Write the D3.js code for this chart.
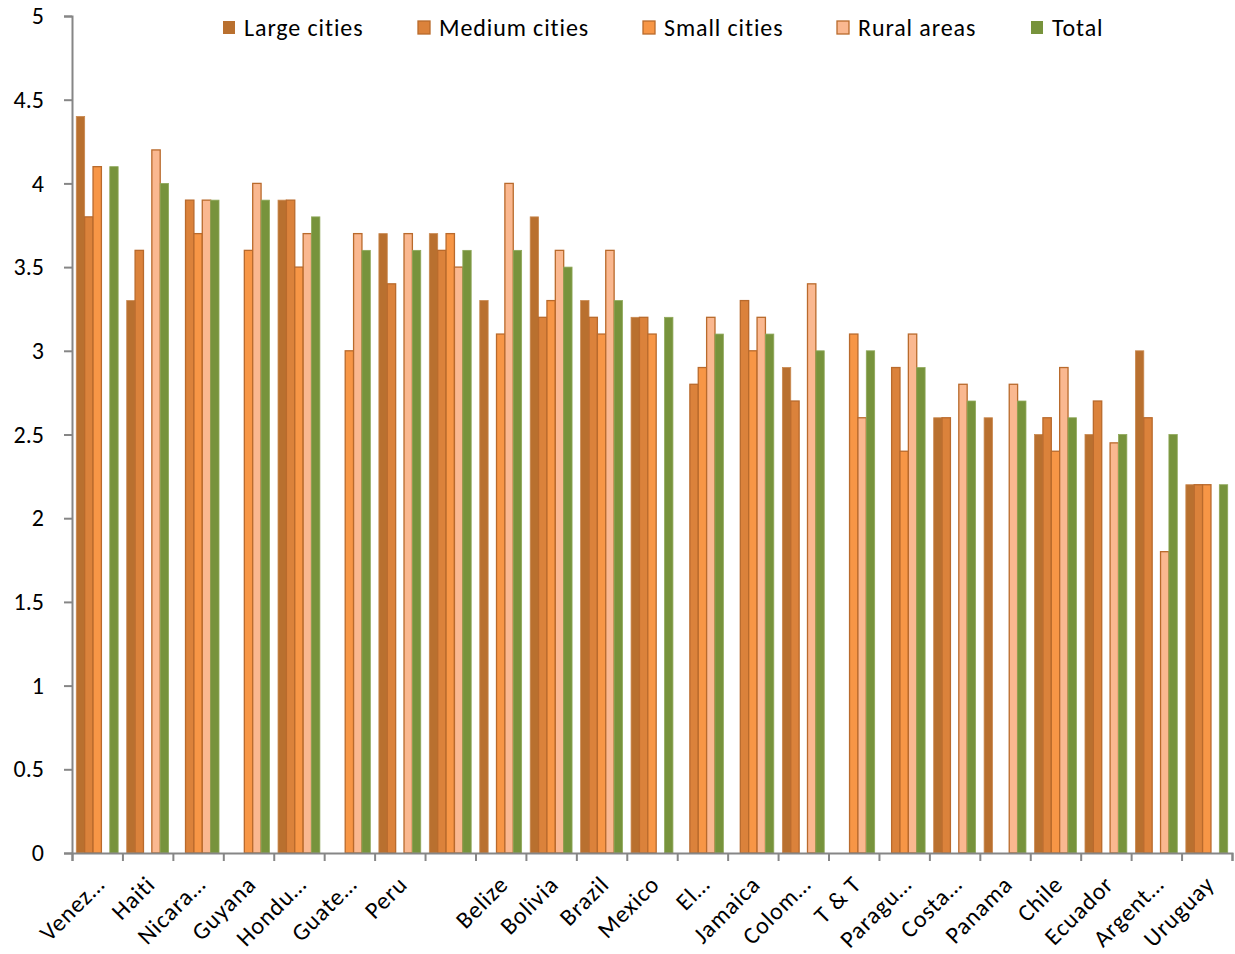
<!DOCTYPE html>
<html><head><meta charset="utf-8">
<script src="https://cdn.jsdelivr.net/npm/d3@7"></script>
<style>body{margin:0;background:#fff;} svg{display:block;font-family:Carlito,Lato,"Open Sans",sans-serif;}</style>
</head><body>
<svg id="c" width="1235" height="954"></svg>
<script>
const categories = ["Venez…","Haiti","Nicara…","Guyana","Hondu…","Guate…","Peru","","Belize","Bolivia","Brazil","Mexico","El…","Jamaica","Colom…","T & T","Paragu…","Costa…","Panama","Chile","Ecuador","Argent…","Uruguay"];
const seriesNames = ["Large cities","Medium cities","Small cities","Rural areas","Total"];
const largeCities  = [4.4,3.3,null,null,3.9,null,3.7,3.7,3.3,3.8,3.3,3.2,null,null,2.9,null,null,2.6,2.6,2.5,2.5,3.0,2.2];
const mediumCities = [3.8,3.6,3.9,null,3.9,null,3.4,3.6,null,3.2,3.2,3.2,2.8,3.3,2.7,null,2.9,2.6,null,2.6,2.7,2.6,2.2];
const smallCities  = [4.1,null,3.7,3.6,3.5,3.0,null,3.7,3.1,3.3,3.1,3.1,2.9,3.0,null,3.1,2.4,null,null,2.4,null,null,2.2];
const ruralAreas   = [null,4.2,3.9,4.0,3.7,3.7,3.7,3.5,4.0,3.6,3.6,null,3.2,3.2,3.4,2.6,3.1,2.8,2.8,2.9,2.45,1.8,null];
const total        = [4.1,4.0,3.9,3.9,3.8,3.6,3.6,3.6,3.6,3.5,3.3,3.2,3.1,3.1,3.0,3.0,2.9,2.7,2.7,2.6,2.5,2.5,2.2];
const yTicks = [0,0.5,1,1.5,2,2.5,3,3.5,4,4.5,5];

const seriesValues = [largeCities, mediumCities, smallCities, ruralAreas, total];
const fills   = ["#B9702F","#DB823B","#F79646","#FAB890","#77933C"];
const strokes = ["#C9884F","#B96A2C","#B96A2C","#B96A2C","#8FA85A"];
const strokeW = [0.8,1.3,1.3,1.3,0.8];

const svg = d3.select("#c");
const mLeft = 72, mRight = 1232, mTop = 16, mBottom = 853;
const fontSize = "24px", letterSp = "0.9px";

const x0 = d3.scaleBand().domain(d3.range(categories.length)).range([mLeft, mRight]).paddingInner(0).paddingOuter(0);
const x1 = d3.scaleBand().domain(d3.range(seriesNames.length)).range([x0.bandwidth()*0.085, x0.bandwidth()*0.915]);
const y = d3.scaleLinear().domain([0,5]).range([mBottom, mTop]);

// bars
seriesValues.forEach((vals, s) => {
  svg.append("g").selectAll("rect").data(vals.map((v,i)=>({v,i})).filter(d=>d.v!=null))
    .join("rect")
    .attr("x", d => x0(d.i) + x1(s))
    .attr("y", d => y(d.v))
    .attr("width", x1.bandwidth())
    .attr("height", d => y(0) - y(d.v))
    .attr("fill", fills[s])
    .attr("stroke", strokes[s])
    .attr("stroke-width", strokeW[s]);
});

const axisColor = "#868686";
// y axis
const yAxis = svg.append("g").attr("transform", `translate(${mLeft},0)`)
  .call(d3.axisLeft(y).tickValues(yTicks).tickSize(8).tickPadding(20).tickFormat(d => d3.format("")(d)));
yAxis.select(".domain").attr("stroke", axisColor).attr("stroke-width", 2);
yAxis.selectAll(".tick line").attr("stroke", axisColor).attr("stroke-width", 2);
yAxis.selectAll(".tick text").attr("fill", "#000").style("font-size", fontSize).style("font-family", "Carlito,Lato,sans-serif");

// x axis
const xLin = d3.scaleLinear().domain([0, categories.length]).range([mLeft, mRight]);
const xAxisG = svg.append("g").attr("transform", `translate(0,${mBottom})`);
xAxisG.call(d3.axisBottom(xLin).tickValues(d3.range(categories.length+1)).tickSize(8).tickFormat(""));
xAxisG.select(".domain").attr("stroke", axisColor).attr("stroke-width", 2);
xAxisG.selectAll(".tick line").attr("stroke", axisColor).attr("stroke-width", 2);

// x labels
svg.append("g").selectAll("text").data(categories).join("text")
  .attr("transform", (d,i) => `translate(${x0(i)+x0.bandwidth()/2+3},${mBottom+27}) rotate(-45)`)
  .attr("text-anchor", "end")
  .attr("dy", "0.35em")
  .style("font-size", fontSize)
  .style("letter-spacing", letterSp)
  .attr("fill", "#000")
  .text(d => d);

// legend
const legendX = [223, 418, 643, 837, 1031];
const lg = svg.append("g");
seriesNames.forEach((n, s) => {
  lg.append("rect").attr("x", legendX[s]).attr("y", 21).attr("width", 12).attr("height", 13)
    .attr("fill", fills[s]).attr("stroke", s===0||s===4 ? "none" : strokes[s]).attr("stroke-width", 1.3);
  lg.append("text").attr("x", legendX[s] + 21).attr("y", 28).attr("dy", "0.35em")
    .style("font-size", fontSize).style("letter-spacing", letterSp).attr("fill", "#000").text(n);
});
</script>
</body></html>
